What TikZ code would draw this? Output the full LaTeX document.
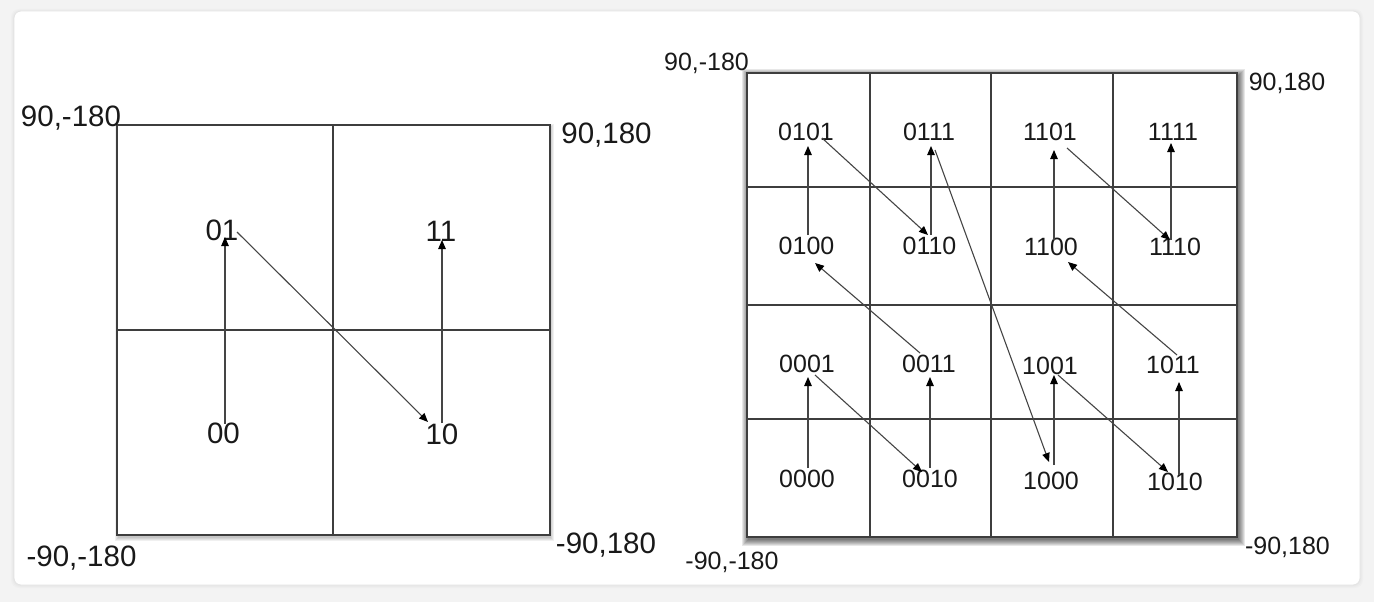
\documentclass[tikz,border=0pt]{standalone}
\usepackage{fontspec}
\setmainfont{Liberation Sans}
\usetikzlibrary{arrows.meta,calc}
\definecolor{pagebg}{HTML}{F3F3F3}
\definecolor{cardedge}{HTML}{E4E4E4}
\definecolor{gridline}{HTML}{3E3E3E}
\definecolor{arrowline}{HTML}{454545}
\tikzset{
  bigtxt/.style={inner sep=0pt, text depth=0pt, font=\fontsize{29.5}{31}\selectfont, text=black!90},
  smalltxt/.style={inner sep=0pt, text depth=0pt, font=\fontsize{25}{27}\selectfont, text=black!90},
  gridpen/.style={draw=gridline, line width=1.3pt},
  framepen/.style={draw=gridline, line width=1.9pt},
  arr/.style={draw=arrowline, line width=1.1pt, -{Triangle[length=9pt,width=7.5pt,color=black]}},
}
\begin{document}
\begin{tikzpicture}[x=1pt,y=-1pt]
\useasboundingbox (0,0) rectangle (1374,602);
% page and card
\fill[pagebg] (0,0) rectangle (1374,602);
\foreach \d in {1,2,3}{
  \fill[black,opacity=0.015,rounded corners=8pt] (14-\d,11-\d+1) rectangle (1360+\d,585+\d);
}
\filldraw[fill=white, draw=cardedge, line width=0.8pt, rounded corners=7pt] (14,11) rectangle (1360,585);

% ---------- left grid ----------
\foreach \d in {0,1,2,3}{
  \fill[black,opacity=0.06] (117-\d+1,125-\d+2) rectangle (550+\d+1,535+\d+3);
}
\fill[white] (117,125) rectangle (550,535);
\draw[gridpen] (333,125) -- (333,535);
\draw[gridpen] (117,330) -- (550,330);
\draw[framepen, line width=1.6pt] (117,125) rectangle (550,535);

\node[bigtxt] (lnw) at (71,116.5) {90,-180};
\node[bigtxt] (lne) at (606.5,133.5) {90,180};
\node[bigtxt] (lsw) at (81.5,556) {-90,-180};
\node[bigtxt] (lse) at (606,543) {-90,180};

\node[bigtxt] (l01) at (222,230.5) {01};
\node[bigtxt] (l11) at (441,231) {11};
\node[bigtxt] (l00) at (223.5,433.5) {00};
\node[bigtxt] (l10) at (442,434) {10};

\draw[arr] ($(l00)+(1.5,-10)$) -- ($(l01)+(3,6.5)$);
\draw[arr] ($(l01)+(15,1.5)$) -- ($(l10)+(-14,-12)$);
\draw[arr] ($(l10)+(0,-11)$) -- ($(l11)+(1,9)$);

% ---------- right grid ----------
\foreach \d in {0,1,2,3,4,5,6}{
  \fill[black,opacity=0.095] (747-\d+1,73-\d+2) rectangle (1237+\d+2,537+\d+3);
}
\fill[white] (747,73) rectangle (1237,537);
\foreach \x in {870,991,1113}{ \draw[gridpen] (\x,73) -- (\x,537); }
\foreach \y in {187,305,419}{ \draw[gridpen] (747,\y) -- (1237,\y); }
\draw[framepen] (747,73) rectangle (1237,537);

\node[smalltxt] (rnw) at (706.5,62) {90,-180};
\node[smalltxt] (rne) at (1287,81.5) {90,180};
\node[smalltxt] (rsw) at (732,561) {-90,-180};
\node[smalltxt] (rse) at (1287.5,546) {-90,180};

\node[smalltxt] (n0101) at (806,131.5) {0101};
\node[smalltxt] (n0111) at (929,131.5) {0111};
\node[smalltxt] (n1101) at (1050,131.5) {1101};
\node[smalltxt] (n1111) at (1173,131.5) {1111};
\node[smalltxt] (n0100) at (806.5,246) {0100};
\node[smalltxt] (n0110) at (929.5,246) {0110};
\node[smalltxt] (n1100) at (1051,247) {1100};
\node[smalltxt] (n1110) at (1175,247) {1110};
\node[smalltxt] (n0001) at (807,363.5) {0001};
\node[smalltxt] (n0011) at (929,363.5) {0011};
\node[smalltxt] (n1001) at (1050,365.5) {1001};
\node[smalltxt] (n1011) at (1173,365) {1011};
\node[smalltxt] (n0000) at (807,479) {0000};
\node[smalltxt] (n0010) at (930,479) {0010};
\node[smalltxt] (n1000) at (1051,481) {1000};
\node[smalltxt] (n1010) at (1175,482) {1010};

\draw[arr] ($(n0000)+(1,-11)$) -- ($(n0001)+(1,13.5)$);
\draw[arr] ($(n0001)+(8,11.5)$) -- ($(n0010)+(-8,-7)$);
\draw[arr] ($(n0010)+(0,-11)$) -- ($(n0011)+(1,13.5)$);
\draw[arr] ($(n0011)+(-9,-10.5)$) -- ($(n0100)+(8.5,17)$);
\draw[arr] ($(n0100)+(1.5,-11)$) -- ($(n0101)+(2,14.5)$);
\draw[arr] ($(n0101)+(16,6.5)$) -- ($(n0110)+(-1.5,-11)$);
\draw[arr] ($(n0110)+(1.5,-11)$) -- ($(n0111)+(2,14.5)$);
\draw[arr] ($(n0111)+(6,18.5)$) -- ($(n1000)+(-2,-19)$);
\draw[arr] ($(n1000)+(3,-16)$) -- ($(n1001)+(4,9.5)$);
\draw[arr] ($(n1001)+(8,9.5)$) -- ($(n1010)+(-7,-10)$);
\draw[arr] ($(n1010)+(4,-7)$) -- ($(n1011)+(6,17)$);
\draw[arr] ($(n1011)+(4,-10)$) -- ($(n1100)+(17,15)$);
\draw[arr] ($(n1100)+(3,-7)$) -- ($(n1101)+(4,18.5)$);
\draw[arr] ($(n1101)+(17,16.5)$) -- ($(n1110)+(-5,-7)$);
\draw[arr] ($(n1110)+(-4,-7)$) -- ($(n1111)+(-2,11.5)$);
\end{tikzpicture}
\end{document}
